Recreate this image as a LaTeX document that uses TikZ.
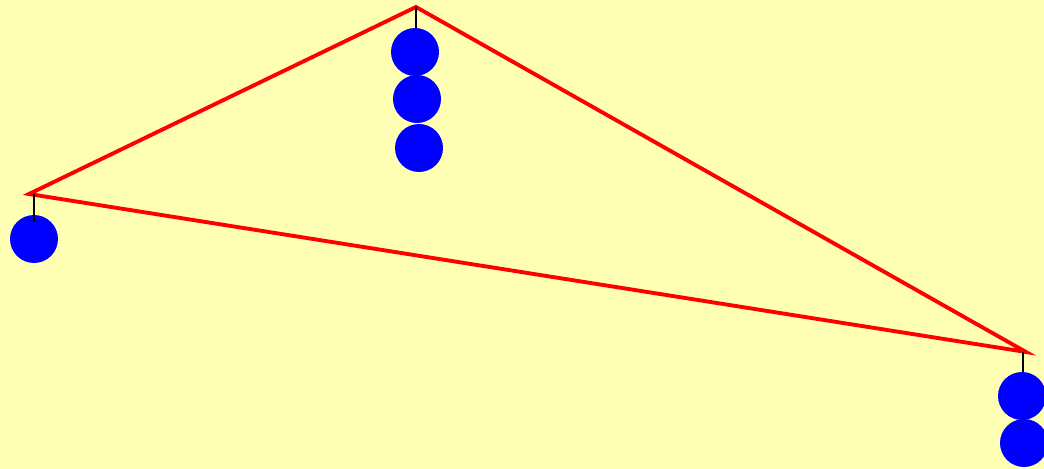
\documentclass[tikz,border=0pt]{standalone}
\usepackage{tikz}
\usetikzlibrary{positioning, calc}
\usepackage{xcolor}
\definecolor{bgyellow}{HTML}{FFFFB3}
\definecolor{barred}{HTML}{FF0000}
\definecolor{weightblue}{HTML}{0000FF}

\begin{document}
\begin{tikzpicture}[
    x=0.02cm, y=-0.02cm,
    bar/.style={
        draw=barred,
        line width=2.2pt,
        line join=miter
    },
    thread/.style={
        draw=black,
        line width=0.6pt
    },
    weight/.style={
        circle,
        fill=weightblue,
        minimum size=0.96cm,
        inner sep=0pt
    }
]

% ==========================================
% BACKGROUND
% ==========================================

\fill[bgyellow] (0,0) rectangle (1044,469);
\useasboundingbox (0,0) rectangle (1044,469);

% ==========================================
% FRAME
% ==========================================

\coordinate (top) at (416,7);
\coordinate (left) at (29,194);
\coordinate (right) at (1026,352);

\draw[bar] (top) -- (right) -- (left) -- cycle;

% ==========================================
% WEIGHTS
% ==========================================

\node[weight] (top1) at (415,52) {};
\node[weight] (top2) at (417,99) {};
\node[weight] (top3) at (419,148) {};

\node[weight] (left1) at (34,239) {};

\node[weight] (right1) at (1022,396) {};
\node[weight] (right2) at (1024,443) {};

% ==========================================
% THREADS
% ==========================================

\coordinate (tophook) at (416,28);
\coordinate (lefthook) at (34,222);
\coordinate (righthook) at (1023,372);

\draw[thread] (top) -- (tophook);
\draw[thread] (34,194) -- (lefthook);
\draw[thread] (1023,352) -- (righthook);

\end{tikzpicture}
\end{document}
